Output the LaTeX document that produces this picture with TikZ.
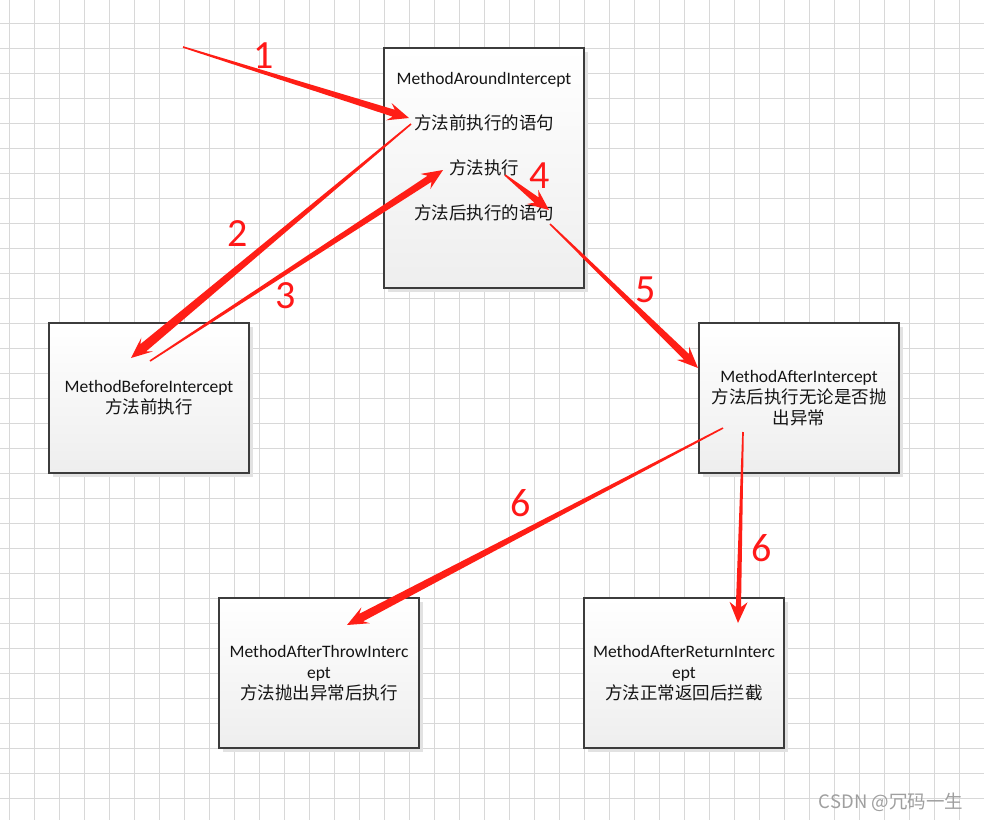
\documentclass[tikz,border=0pt]{standalone}
\usepackage{fontspec}
\setmainfont{Carlito}
\newfontfamily\cjk{Noto Sans CJK SC}
\usetikzlibrary{calc,shadows}
\definecolor{arrowred}{RGB}{255,30,22}
\definecolor{labelred}{RGB}{255,24,24}
\definecolor{gridgray}{RGB}{216,216,216}
\definecolor{boxborder}{RGB}{60,60,60}
\definecolor{boxbottom}{RGB}{238,238,238}
\definecolor{shadowgray}{RGB}{226,226,226}
\definecolor{textgray}{RGB}{20,20,20}
\newcommand\taparrow[4]{%
  \fill[arrowred] ($(#1)!#3!90:(#2)$) -- ($(#2)!16pt!(#1)!#4!90:(#2)$) -- ($(#2)!21pt!(#1)!9pt!90:(#2)$) -- (#2)
   -- ($(#2)!21pt!(#1)!9pt!270:(#2)$) -- ($(#2)!16pt!(#1)!#4!270:(#2)$) -- ($(#1)!#3!270:(#2)$) -- cycle;}
\tikzset{
  gridline/.style={draw=gridgray, line width=0.9pt},
  box/.style={draw=boxborder, line width=1.2pt, top color=white, bottom color=boxbottom,
    minimum width=200pt, minimum height=150pt, inner sep=0pt, align=center,
    font=\fontsize{17.5}{21}\selectfont, text=textgray,
    drop shadow={shadow xshift=4pt, shadow yshift=-4pt, fill=shadowgray, opacity=1}},
  txt/.style={inner sep=0pt, font=\fontsize{17.5}{21}\selectfont, text=textgray},
  num/.style={inner sep=0pt, font=\fontsize{40}{40}\selectfont, text=labelred}
}
\begin{document}
\begin{tikzpicture}[x=1pt,y=-1pt]
\useasboundingbox (0,0) rectangle (984,820);
\fill[white] (0,0) rectangle (984,820);
\foreach \gx in {9,34,...,984} \draw[gridline] (\gx,0) -- (\gx,820);
\foreach \gy in {23,48,...,820} \draw[gridline] (0,\gy) -- (984,\gy);

% boxes
\node[box, minimum height=240pt] (around) at (484,168) {};
\node[txt] (t0) at (484,80) {MethodAroundIntercept};
\node[txt] (t1) at (484,123) {\cjk 方法前执行的语句};
\node[txt] (t2) at (484,168) {\cjk 方法执行};
\node[txt] (t3) at (484,213) {\cjk 方法后执行的语句};

\node[box] (before) at (149,398) {MethodBeforeIntercept\\{\cjk 方法前执行}};
\node[box] (after) at (799,398) {MethodAfterIntercept\\{\cjk 方法后执行无论是否抛}\\{\cjk 出异常}};
\node[box] (throw) at (319,673) {MethodAfterThrowInterc\\ept\\{\cjk 方法抛出异常后执行}};
\node[box] (return) at (684,673) {MethodAfterReturnInterc\\ept\\{\cjk 方法正常返回后拦截}};

% arrow end points
\coordinate (a1s) at (183,47);  \coordinate (a1e) at (409,118);
\coordinate (a2s) at (411,124); \coordinate (a2e) at (131,358);
\coordinate (a3s) at (150,361); \coordinate (a3e) at (443,170);
\coordinate (a4s) at (505,175); \coordinate (a4e) at (549,210);
\coordinate (a5s) at (550,224); \coordinate (a5e) at (698,368);
\coordinate (a6s) at (723,428); \coordinate (a6e) at (347,625);
\coordinate (a7s) at (743,432); \coordinate (a7e) at (738,623);

\taparrow{a1s}{a1e}{0.8pt}{3.6pt}
\taparrow{a2s}{a2e}{0.8pt}{4.6pt}
\taparrow{a3s}{a3e}{0.8pt}{3.6pt}
\taparrow{a4s}{a4e}{0.8pt}{3.4pt}
\taparrow{a5s}{a5e}{0.8pt}{3.8pt}
\taparrow{a6s}{a6e}{0.8pt}{4.2pt}
\taparrow{a7s}{a7e}{0.8pt}{2.6pt}

% labels
\node[num] (n1) at (264,56) {1};
\node[num] (n2) at (238,234) {2};
\node[num] (n3) at (286,296) {3};
\node[num] (n4) at (540,176) {4};
\node[num] (n5) at (646,290) {5};
\node[num] (n6a) at (521,503) {6};
\node[num] (n6b) at (762,548) {6};

\node[inner sep=0pt, font=\cjk\fontsize{18.5}{18.5}\selectfont, text=gray!75] (wm) at (891,802) {CSDN @冗码一生};
\end{tikzpicture}
\end{document}
